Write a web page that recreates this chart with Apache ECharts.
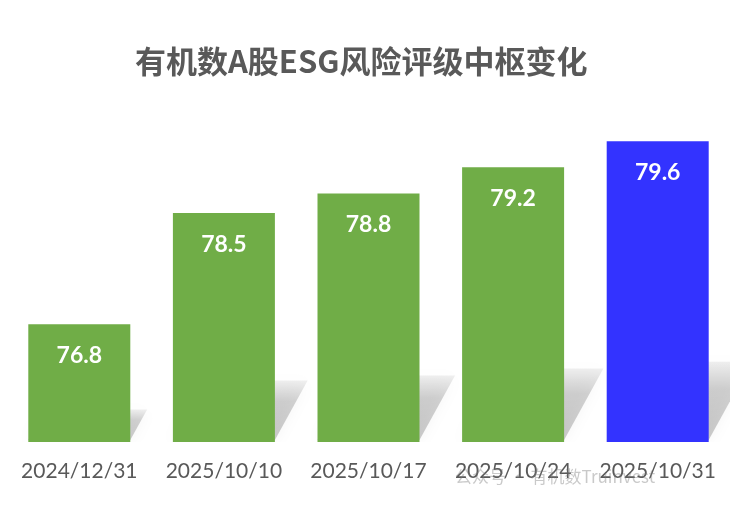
<!DOCTYPE html>
<html>
<head>
<meta charset="utf-8">
<script src="https://cdn.jsdelivr.net/npm/echarts@6/dist/echarts.min.js"></script>
<style>html,body{margin:0;padding:0;background:#fff;}#c{width:744px;height:508px;}</style>
</head>
<body>
<div id="c"></div>
<script>
const categories = ['2024/12/31', '2025/10/10', '2025/10/17', '2025/10/24', '2025/10/31'];
const values = [76.8, 78.5, 78.8, 79.2, 79.6];
const barColors = ['#70AD47', '#70AD47', '#70AD47', '#70AD47', '#3333FF'];
const yMin = 75, yMax = 80;

const chart = echarts.init(document.getElementById('c'));
const BAR_W = 102;

chart.setOption({
  backgroundColor: '#ffffff',
  animation: false,
  title: {
    text: '有机数A股ESG风险评级中枢变化',
    left: 130,
    top: 41,
    textStyle: { fontFamily: 'Noto Sans CJK SC', fontWeight: 'bold', fontSize: 31, color: '#595959' }
  },
  grid: { left: 7, right: 14, top: 115, bottom: 66 },
  xAxis: {
    type: 'category',
    data: categories,
    axisLine: { show: false },
    axisTick: { show: false },
    axisLabel: { fontFamily: 'Lato', fontSize: 21, color: '#595959', margin: 19, interval: 0, hideOverlap: false }
  },
  yAxis: {
    type: 'value', min: yMin, max: yMax, show: false,
    splitLine: { show: false }
  },
  graphic: [{
    type: 'text', left: 455, top: 468, z: 100,
    style: { text: '公众号 · 有机数Truinvest', fontFamily: 'Noto Sans CJK SC', fontSize: 17, fill: 'rgba(120,120,120,0.4)' }
  }],
  series: [
    {
      type: 'custom',
      clip: true,
      z: 1,
      data: values.map((v, i) => [i, v]),
      renderItem: function (params, api) {
        const base = api.coord([api.value(0), yMin]);
        const top = api.coord([api.value(0), api.value(1)]);
        const h = base[1] - top[1];
        const sh = h * 0.26;
        const s = sh * 0.55;
        const xL = base[0] - BAR_W / 2, xR = base[0] + BAR_W / 2;
        const yB = base[1] - 2;
        return {
          type: 'polygon',
          shape: { points: [[xL, yB], [xR, yB], [xR + s, yB - sh], [xL + s, yB - sh]] },
          style: {
            fill: new echarts.graphic.LinearGradient(0, 0, 0, 1, [
              { offset: 0, color: 'rgba(0,0,0,0.06)' },
              { offset: 0.35, color: 'rgba(0,0,0,0.17)' },
              { offset: 1, color: 'rgba(0,0,0,0.2)' }
            ]),
            shadowBlur: 14, shadowColor: 'rgba(0,0,0,0.22)'
          }
        };
      }
    },
    {
      type: 'bar',
      z: 2,
      barWidth: BAR_W,
      data: values.map((v, i) => ({ value: v, itemStyle: { color: barColors[i] } })),
      label: {
        show: true, position: 'insideTop', distance: 20,
        fontFamily: 'Lato', fontWeight: 'bold', fontSize: 23, color: '#ffffff',
        formatter: p => p.value.toFixed(1)
      }
    }
  ]
});
</script>
</body>
</html>
